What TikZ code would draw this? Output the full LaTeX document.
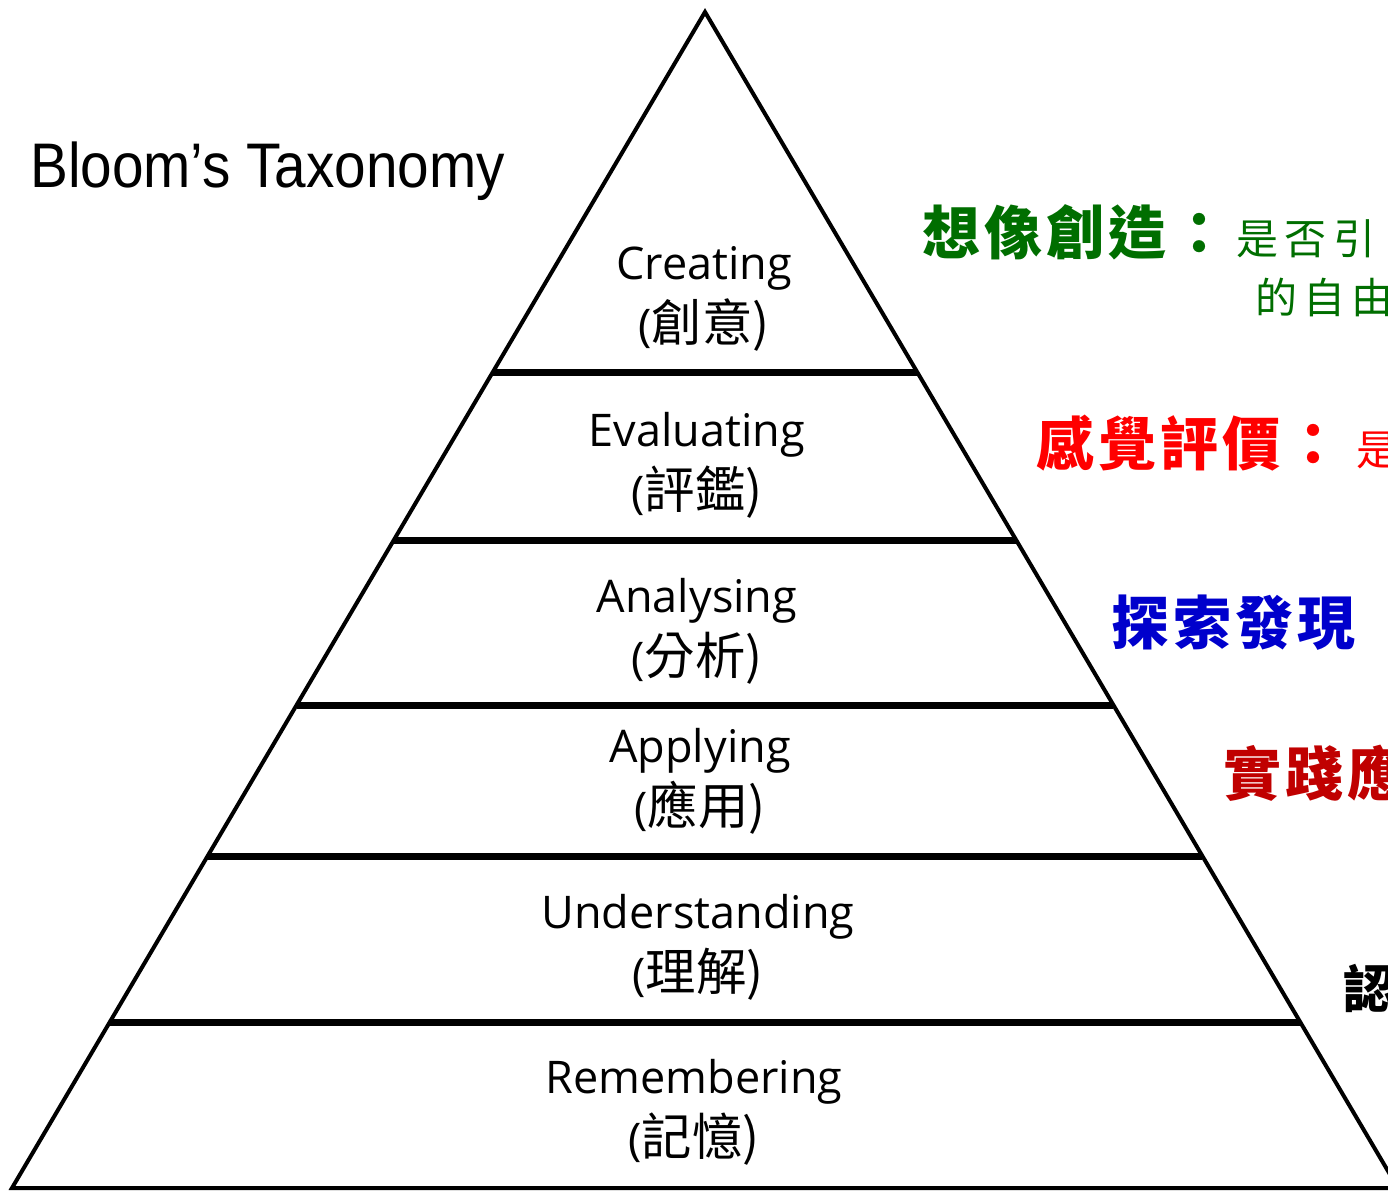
\documentclass[tikz,border=0pt]{standalone}
\usepackage{fontspec}
\setmainfont{Open Sans}
\newfontfamily\cjk{Noto Sans CJK TC}
\newfontfamily\cjklabel[Scale=1.12]{Noto Sans CJK TC}
\newfontfamily\titlefont[FakeStretch=0.9]{Liberation Sans}
\definecolor{creategreen}{RGB}{0,110,0}
\definecolor{findblue}{RGB}{0,0,204}
\definecolor{darkred}{RGB}{192,0,0}
\newcommand{\lvl}[2]{#1\\(\cjklabel #2)}
\newcommand{\smallnote}{\mdseries\fontsize{42}{42}\selectfont\addfontfeature{LetterSpace=15}}
\tikzset{
  level text/.style={align=center, inner sep=0pt,
    font=\fontsize{45}{62}\selectfont},
  side text/.style={anchor=west, inner sep=0pt,
    font=\cjk\bfseries\fontsize{58}{58}\selectfont\addfontfeature{LetterSpace=7}},
  side small/.style={font=\cjk\smallnote}
}
\begin{document}
\begin{tikzpicture}[x=1pt, y=-1pt]
  \useasboundingbox (0,0) rectangle (1388,1192);
  % pyramid outline
  \coordinate (apex) at (705,12);
  \coordinate (base left) at (12,1188);
  \coordinate (base right) at (1398,1188);
  \draw [line width=4pt, line join=miter]
    (base left) -- (apex) -- (base right) -- cycle;
  % level separators
  \foreach \y in {372,540,705,856,1022}
    \draw [line width=7pt]
      ({705-0.589*(\y-12)},\y) -- ({705+0.589*(\y-12)},\y);
  % title
  \node (title) [anchor=base west, inner sep=0pt,
    font=\titlefont\fontsize{63}{63}\selectfont]
    at (30,187) {Bloom’s Taxonomy};
  % level labels
  \node (creating)      [level text] at (704,299)  {\lvl{Creating}{創意}};
  \node (evaluating)    [level text] at (697,465)  {\lvl{Evaluating}{評鑑}};
  \node (analysing)     [level text] at (697,631)  {\lvl{Analysing}{分析}};
  \node (applying)      [level text] at (700,781)  {\lvl{Applying}{應用}};
  \node (understanding) [level text] at (698,947)  {\lvl{Understanding}{理解}};
  \node (remembering)   [level text] at (694,1112) {\lvl{Remembering}{記憶}};
  % notes on the right
  \node (imagine) [side text, text=creategreen] at (922,232)
    {想像創造：\hspace{8pt}{\smallnote 是否引}};
  \node (imagine2) [side text, text=creategreen, side small] at (1255,297) {的自由};
  \node (feel) [side text, text=red] at (1036,443) {感覺評價：};
  \node (feel2) [side text, text=red, side small] at (1356,450) {是};
  \node (explore) [side text, text=findblue] at (1111,623) {探索發現};
  \node (practice) [side text, text=darkred] at (1223,773) {實踐應};
  \node (recognise) [side text, text=black, font=\cjk\bfseries\fontsize{52}{52}\selectfont]
    at (1343,988) {認};
\end{tikzpicture}
\end{document}
